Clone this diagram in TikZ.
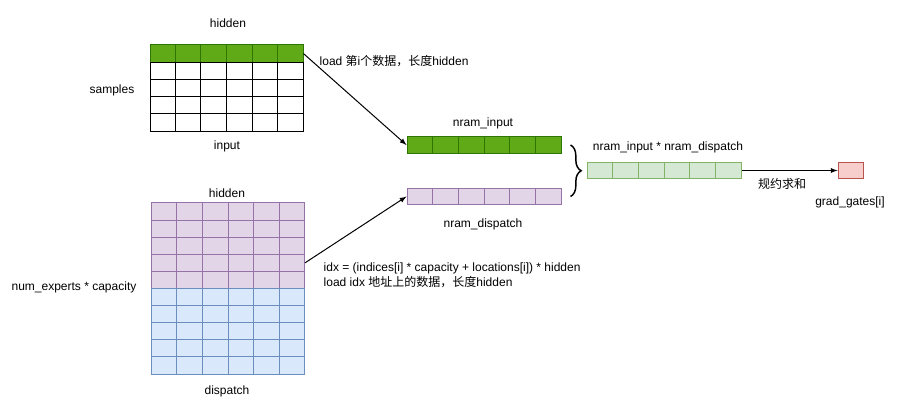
\documentclass[tikz,border=0pt]{standalone}
\usepackage{fontspec}
\setmainfont{Liberation Sans}
\newfontfamily\cjk{Noto Sans CJK SC}
\usetikzlibrary{calc,decorations.pathreplacing}

\definecolor{greenfill}{HTML}{60A917}
\definecolor{greendraw}{HTML}{2D7600}
\definecolor{purplefill}{HTML}{E1D5E7}
\definecolor{purpledraw}{HTML}{9673A6}
\definecolor{bluefill}{HTML}{DAE8FC}
\definecolor{bluedraw}{HTML}{6C8EBF}
\definecolor{lgreenfill}{HTML}{D5E8D4}
\definecolor{lgreendraw}{HTML}{82B366}
\definecolor{redfill}{HTML}{F8CECC}
\definecolor{reddraw}{HTML}{B85450}

% split a row node into 6 cells
\newcommand{\rowcells}[2]{%
  \foreach \i in {1,...,5}
    \draw[#2, line width=0.75pt] ($(#1.north west)!\i/6!(#1.north east)$) -- ($(#1.south west)!\i/6!(#1.south east)$);}

\begin{document}
\begin{tikzpicture}[x=0.75pt, y=-0.75pt, >=latex, font=\fontsize{9pt}{11.25pt}\selectfont,
    rowbox/.style={draw, inner sep=0pt, line width=0.75pt, minimum width=114.75pt, minimum height=12.9pt},
    arrbox/.style={rowbox, minimum width=115.5pt, minimum height=12.4pt}]
        \useasboundingbox (0,0) rectangle (899,403);

        % ==== INPUT GRID ====
        \node[rowbox, fill=greenfill, draw=greendraw] (in0) at (226.5,53.6) {};
        \rowcells{in0}{greendraw}
        \foreach \r in {1,...,4}{
            \node[rowbox, fill=white, draw=black] (in\r) at (226.5,{53.6+\r*17.2}) {};
            \rowcells{in\r}{black}
        }
        \node (inhidden) at (228,23) {hidden};
        \node (samples) at (112,90) {samples};
        \node (input) at (227,146) {input};

        % ==== DISPATCH GRID ====
        \foreach \r in {0,...,4}{
            \node[rowbox, minimum height=12.83pt, fill=purplefill, draw=purpledraw] (disp\r) at (228,{211.55+\r*17.1}) {};
            \rowcells{disp\r}{purpledraw}
        }
        \foreach \r in {5,...,9}{
            \node[rowbox, minimum height=12.83pt, fill=bluefill, draw=bluedraw] (disp\r) at (228,{211.55+\r*17.1}) {};
            \rowcells{disp\r}{bluedraw}
        }
        \node (disphidden) at (227,193) {hidden};
        \node (dispatch) at (227,391) {dispatch};
        \node (experts) at (74,287) {num\_experts * capacity};

        % ==== NRAM ARRAYS ====
        \node[arrbox, fill=greenfill, draw=greendraw] (nraminput) at (484,145) {};
        \rowcells{nraminput}{greendraw}
        \node (nraminputlbl) at (483,123) {nram\_input};
        \node[arrbox, fill=purplefill, draw=purpledraw] (nramdispatch) at (484,196.5) {};
        \rowcells{nramdispatch}{purpledraw}
        \node (nramdispatchlbl) at (483,224) {nram\_dispatch};

        % ==== PRODUCT AND RESULT ====
        \node[arrbox, fill=lgreenfill, draw=lgreendraw] (product) at (664,170.5) {};
        \rowcells{product}{lgreendraw}
        \node (productlbl) at (668,147) {nram\_input * nram\_dispatch};
        \node[arrbox, minimum width=18.75pt, fill=redfill, draw=reddraw] (grad) at (850.5,170.5) {};
        \node (gradlbl) at (850,202) {grad\_gates[i]};

        \draw[decorate, decoration={brace, amplitude=8pt}, line width=1.1pt]
            ([xshift=6.75pt]nraminput.east) -- ([xshift=6.75pt]nramdispatch.east);

        % ==== ARROWS ====
        \draw[->, line width=0.75pt] (in0.east) -- (nraminput.west);
        \draw[->, line width=0.75pt] (disp3.east) -- (nramdispatch.west);
        \draw[->, line width=0.75pt] (product.east) -- (grad.west);

        \node[anchor=west] (loadlbl) at (315,61) {load {\cjk 第}i{\cjk 个数据，长度}hidden};
        \node[anchor=west, align=left] (idxlbl) at (319,275)
            {idx = (indices[i] * capacity + locations[i]) * hidden\\load idx {\cjk 地址上的数据，长度}hidden};
        \node (reducelbl) at (782,184) {\cjk 规约求和};
\end{tikzpicture}
\end{document}
